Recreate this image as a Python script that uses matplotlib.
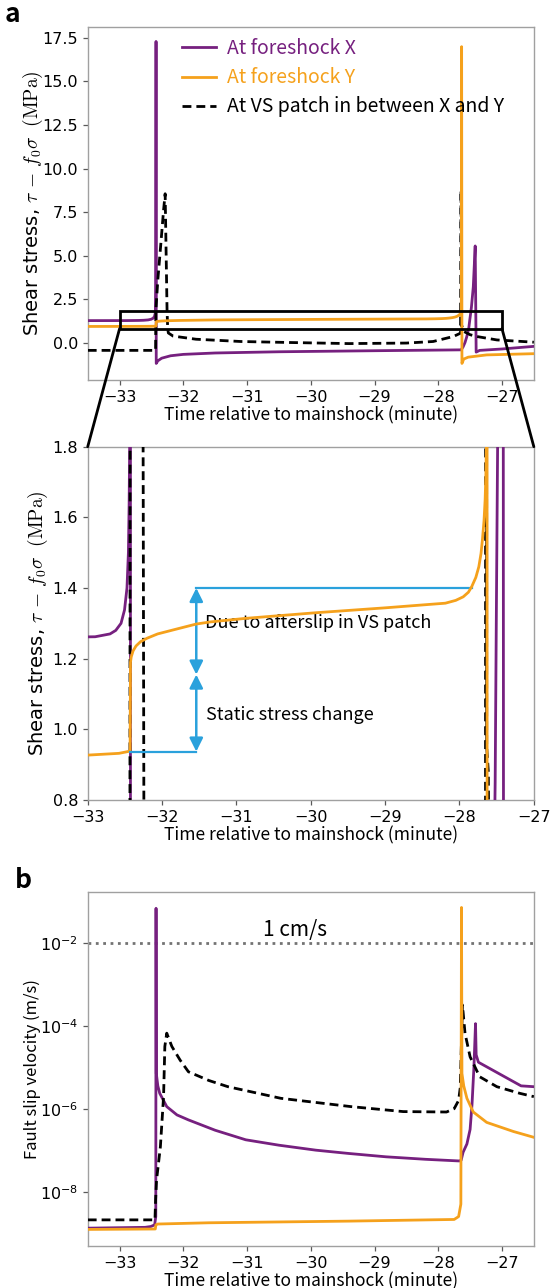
import numpy as np
import matplotlib
matplotlib.use("Agg")
import matplotlib.pyplot as plt
from matplotlib.patches import Rectangle, ConnectionPatch
from matplotlib.font_manager import FontProperties

plt.rcParams["font.family"] = ["DejaVu Sans"]
plt.rcParams["mathtext.fontset"] = "cm"

PURPLE = "#76207f"
ORANGE = "#f5a11c"
BLUE = "#2aa1dc"
SPINE = "#a0a0a0"
JP = "Noto Sans CJK JP"

# ---- shear stress (MPa) ----
t_stress_x = [-33.5, -32.9, -32.7, -32.623, -32.552, -32.505, -32.472, -32.453, -32.443,
              -32.436, -32.432, -32.428, -32.425, -32.40, -32.34, -32.2, -32.0, -31.5,
              -30.5, -29.0, -27.64, -27.61, -27.58, -27.555, -27.535, -27.52, -27.505,
              -27.48, -27.45, -27.42, -27.405, -27.35, -27.0, -26.5]
stress_x = [1.26, 1.262, 1.27, 1.28, 1.30, 1.338, 1.40, 1.50, 1.64,
            1.8, 3.0, 17.3, -1.2, -1.05, -0.9, -0.76, -0.68, -0.6,
            -0.53, -0.47, -0.42, -0.25, 0.0, 0.3, 0.6, 0.85, 1.3,
            2.0, 3.2, 5.55, -0.55, -0.45, -0.37, -0.22]

t_stress_y = [-33.5, -33.0, -32.58, -32.46, -32.43, -32.425, -32.415, -32.39, -32.35,
              -32.29, -32.2, -32.06, -31.82, -31.54, -31.35, -30.88, -29.93, -28.99,
              -28.5, -28.19, -28.05, -27.95, -27.88, -27.835, -27.78, -27.74, -27.71,
              -27.69, -27.67, -27.655, -27.645, -27.638, -27.633, -27.628, -27.6, -27.53,
              -27.24, -26.5]
stress_y = [0.925, 0.927, 0.932, 0.937, 0.94, 1.19, 1.205, 1.222, 1.236,
            1.248, 1.258, 1.27, 1.283, 1.298, 1.304, 1.314, 1.33, 1.344,
            1.352, 1.357, 1.365, 1.375, 1.388, 1.404, 1.43, 1.46, 1.498,
            1.54, 1.59, 1.65, 1.72, 1.8, 17.0, -1.2, -0.95, -0.84,
            -0.71, -0.64]

t_stress_vs = [-33.5, -32.435, -32.43, -32.40, -32.35, -32.31, -32.285, -32.255, -32.245,
               -32.235, -32.16, -31.8, -31.1, -30.3, -29.4, -28.5, -28.08, -27.76,
               -27.65, -27.642, -27.634, -27.612, -27.605, -27.5, -27.4, -27.08, -26.5]
stress_vs = [-0.45, -0.45, 1.9, 3.6, 5.8, 7.6, 8.55, 1.8, 0.8,
             0.55, 0.37, 0.19, 0.06, 0.0, -0.06, -0.03, 0.06, 0.35,
             0.54, 8.75, 0.95, 0.88, 0.65, 0.45, 0.35, 0.15, 0.02]

# ---- slip velocity, log10 (m/s) ----
t_vel_x = [-33.5, -32.6, -32.51, -32.45, -32.432, -32.428, -32.424, -32.40, -32.37,
           -32.26, -32.1, -31.92, -31.5, -31.02, -30.5, -29.92, -29.4, -28.82,
           -28.2, -27.67, -27.64, -27.61, -27.55, -27.50, -27.47, -27.44, -27.415,
           -27.405, -27.37, -27.17, -26.9, -26.7, -26.5]
logvel_x = [-8.88, -8.86, -8.84, -8.80, -8.6, -1.17, -5.15, -5.45, -5.63,
            -5.95, -6.15, -6.27, -6.52, -6.75, -6.88, -7.0, -7.08, -7.16,
            -7.22, -7.26, -7.24, -7.05, -6.85, -6.5, -5.9, -5.0, -3.95,
            -4.7, -4.88, -5.05, -5.28, -5.45, -5.47]

t_vel_y = [-33.5, -32.44, -32.43, -32.40, -31.6, -29.4, -27.75, -27.68, -27.645,
           -27.635, -27.628, -27.6, -27.55, -27.45, -27.24, -26.82, -26.5]
logvel_y = [-8.91, -8.90, -8.80, -8.78, -8.75, -8.71, -8.67, -8.6, -8.3,
            -1.15, -5.15, -5.45, -5.75, -6.08, -6.33, -6.55, -6.69]

t_vel_vs = [-33.5, -32.445, -32.435, -32.42, -32.36, -32.31, -32.29, -32.26, -32.18,
            -32.05, -31.92, -31.6, -31.3, -30.47, -29.37, -28.55, -27.87, -27.75,
            -27.68, -27.655, -27.62, -27.58, -27.5, -27.35, -27.08, -26.72, -26.5]
logvel_vs = [-8.68, -8.68, -8.2, -7.72, -6.92, -5.71, -4.5, -4.18, -4.5,
             -4.83, -5.11, -5.32, -5.47, -5.75, -5.95, -6.07, -6.08, -6.0,
             -5.8, -5.5, -3.5, -4.18, -4.75, -5.23, -5.47, -5.63, -5.71]

labels = ["At foreshock X", "At foreshock Y", "At VS patch in between X and Y"]
x_ticks = [-33, -32, -31, -30, -29, -28, -27]

# zoom window and annotation levels
zoom_t = (-33.0, -27.0)
zoom_s = (0.8, 1.8)
level_before = 0.937
level_after = 1.40
level_mid = 1.155
t_arrow = -31.54
t_before_start = -32.425
t_after_end = -27.835

fig = plt.figure(figsize=(5.5, 12.88), dpi=100)
ax1 = fig.add_axes([0.1595, 0.7050, 0.8111, 0.2743])
ax2 = fig.add_axes([0.1595, 0.3789, 0.8111, 0.2743])
ax3 = fig.add_axes([0.1595, 0.0326, 0.8111, 0.2746])

LW = 2.0
DASH = (0, (3.2, 1.8))


def style(ax):
    for sp in ax.spines.values():
        sp.set_color(SPINE)
        sp.set_linewidth(1.0)
    ax.tick_params(labelsize=11.5, color="0.35", length=3.5, width=0.9)


for ax, pad in ((ax1, -2), (ax2, 2)):
    hx, = ax.plot(t_stress_x, stress_x, color=PURPLE, lw=LW, zorder=3)
    hv, = ax.plot(t_stress_vs, stress_vs, color="black", lw=LW, ls=DASH, zorder=4)
    hy, = ax.plot(t_stress_y, stress_y, color=ORANGE, lw=LW, zorder=5)
    style(ax)
    ax.set_xticks(x_ticks)
    ax.set_xlabel("Time relative to mainshock (minute)", family=JP, fontsize=12.5, labelpad=1)
    ax.set_ylabel("Shear stress, $\\tau\\,-\\,f_0\\sigma\\ \\ \\mathrm{(MPa)}$", fontsize=14,
                  labelpad=pad)

ax1.set_xlim(-33.5, -26.5)
ax1.set_ylim(-2.15, 18.15)
ax1.set_yticks([0.0, 2.5, 5.0, 7.5, 10.0, 12.5, 15.0, 17.5])

leg = ax1.legend([hx, hy, hv], labels, loc="upper left", bbox_to_anchor=(0.19, 0.995),
                 frameon=False, prop=FontProperties(family=JP, size=14),
                 labelcolor=[PURPLE, ORANGE, "black"], borderpad=0,
                 handlelength=1.75, handletextpad=0.55, labelspacing=0.42)

ax1.add_patch(Rectangle((zoom_t[0], zoom_s[0]), zoom_t[1] - zoom_t[0], zoom_s[1] - zoom_s[0],
                        fill=False, ec="black", lw=2, zorder=6))

ax2.set_xlim(*zoom_t)
ax2.set_ylim(*zoom_s)
ax2.set_yticks([0.8, 1.0, 1.2, 1.4, 1.6, 1.8])

for xa, xb in ((zoom_t[0], 0), (zoom_t[1], 1)):
    con = ConnectionPatch(xyA=(xa, zoom_s[0]), coordsA=ax1.transData,
                          xyB=(xb, 1), coordsB=ax2.transAxes,
                          color="black", lw=2, zorder=10)
    fig.add_artist(con)

# static change and afterslip annotations
ax2.plot([t_before_start, t_arrow], [level_before, level_before], color=BLUE, lw=1.6, zorder=6)
ax2.plot([t_arrow, t_after_end], [level_after, level_after], color=BLUE, lw=1.6, zorder=2)
arrow_kw = dict(arrowstyle="<|-|>", color=BLUE, lw=1.8, mutation_scale=20,
                shrinkA=0, shrinkB=0)
ax2.annotate("", xy=(t_arrow, level_after), xytext=(t_arrow, level_mid), arrowprops=arrow_kw)
ax2.annotate("", xy=(t_arrow, level_mid), xytext=(t_arrow, level_before), arrowprops=arrow_kw)
ax2.text(t_arrow + 0.12, 1.30, "Due to afterslip in VS patch", family=JP, fontsize=13,
         va="center", ha="left")
ax2.text(t_arrow + 0.13, 1.04, "Static stress change", family=JP, fontsize=13,
         va="center", ha="left")

# slip velocity
ax3.plot(t_vel_x, 10 ** np.array(logvel_x), color=PURPLE, lw=LW, zorder=3)
ax3.plot(t_vel_vs, 10 ** np.array(logvel_vs), color="black", lw=LW, ls=DASH, zorder=4)
ax3.plot(t_vel_y, 10 ** np.array(logvel_y), color=ORANGE, lw=LW, zorder=5)
ax3.set_yscale("log")
ax3.set_xlim(-33.5, -26.5)
ax3.set_ylim(10 ** -9.31, 10 ** -0.785)
ax3.set_yticks([1e-8, 1e-6, 1e-4, 1e-2])
ax3.yaxis.set_minor_locator(matplotlib.ticker.NullLocator())
ax3.set_xticks(x_ticks)
style(ax3)
ax3.axhline(1e-2, color="0.45", lw=2, ls=":", zorder=2)
ax3.text(-30.25, 10 ** -1.69, "1 cm/s", family=JP, fontsize=15, ha="center", va="center")
ax3.set_xlabel("Time relative to mainshock (minute)", family=JP, fontsize=12.5, labelpad=1)
ax3.set_ylabel("Fault slip velocity (m/s)", family=JP, fontsize=12, labelpad=-1)

fig.text(12 / 550, 1 - 15 / 1288, "a", family=JP, fontweight="bold", fontsize=19,
         ha="center", va="center")
fig.text(23 / 550, 1 - 880 / 1288, "b", family=JP, fontweight="bold", fontsize=19,
         ha="center", va="center")

fig.savefig("out.png", dpi=100)
